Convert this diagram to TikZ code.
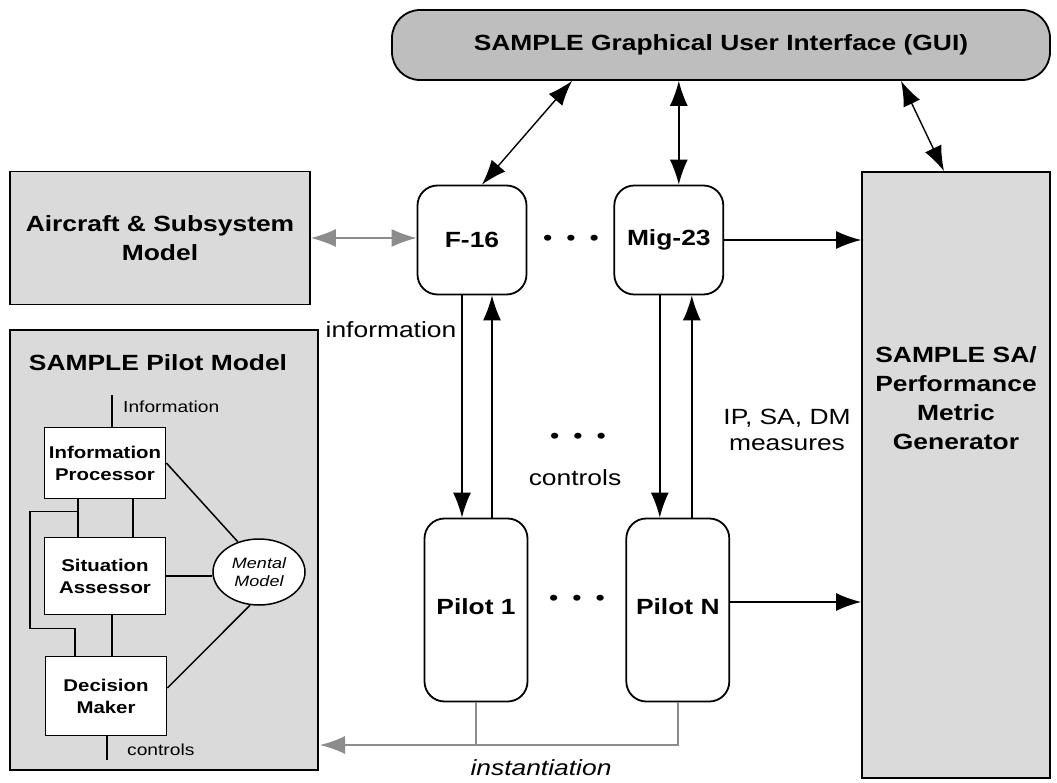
\documentclass[tikz,border=0pt]{standalone}
\usepackage{fontspec}
\setmainfont{Liberation Sans}[FakeStretch=1.2]
\usetikzlibrary{shapes.geometric, arrows.meta, positioning}
\definecolor{guigray}{RGB}{190,190,190}
\definecolor{boxgray}{RGB}{218,218,218}
\definecolor{instgray}{RGB}{140,140,140}
\tikzstyle{graybox} = [rectangle, draw=black, line width=1.8pt, fill=boxgray, align=center, font=\fontsize{22}{29}\selectfont\bfseries]
\tikzstyle{guibox} = [rectangle, rounded corners=28pt, draw=black, line width=1.8pt, fill=guigray, minimum width=658pt, minimum height=70pt, font=\fontsize{22}{27}\selectfont\bfseries]
\tikzstyle{plane} = [rectangle, rounded corners=20pt, draw=black, line width=1.8pt, fill=white, minimum width=109pt, minimum height=109pt, font=\fontsize{22}{27}\selectfont\bfseries]
\tikzstyle{pilot} = [plane, minimum width=103pt, minimum height=183pt]
\tikzstyle{subbox} = [rectangle, draw=black, line width=1.8pt, fill=white, minimum width=121pt, align=center, font=\fontsize{17}{22}\selectfont\bfseries]
\tikzstyle{plaintext} = [align=center, font=\fontsize{22}{26}\selectfont]
\tikzstyle{smalltext} = [anchor=west, inner sep=0pt, font=\fontsize{16}{19}\selectfont]
\tikzstyle{arrow} = [line width=1.4pt, -{Latex[length=25pt,width=18pt]}]
\tikzstyle{dblarrow} = [line width=1.4pt, {Latex[length=25pt,width=18pt]}-{Latex[length=25pt,width=18pt]}]
\tikzstyle{grayarrow} = [draw=instgray, line width=1.4pt, -{Latex[length=25pt,width=18pt]}]
\tikzstyle{grayline} = [draw=instgray, line width=1.4pt]
\tikzstyle{thinline} = [line width=1.5pt]
\newcommand{\threedots}{\textbullet\hspace{14pt}\textbullet\hspace{14pt}\textbullet}

\begin{document}
\begin{tikzpicture}[x=1pt, y=-1pt]
\useasboundingbox (0,0) rectangle (1057,783);
\node (gui) [guibox] at (721,45) {SAMPLE Graphical User Interface (GUI)};
\node (aircraft) [graybox, minimum width=300pt, minimum height=133pt] at (160,238) {Aircraft \& Subsystem\\Model};
\node (pilotmodel) [graybox, minimum width=308pt, minimum height=440pt] at (164,550) {};
\node (pmtitle) [plaintext, font=\fontsize{22}{26}\selectfont\bfseries] at (158,363) {SAMPLE Pilot Model};
\node (metric) [graybox, minimum width=188pt, minimum height=606pt] at (956,475) {};
\node (metrictext) [plaintext, font=\fontsize{22}{29}\selectfont\bfseries] at (956,398) {SAMPLE SA/\\Performance\\Metric\\Generator};

\node (f16) [plane] at (472,240) {F-16};
\node (mig) [plane, right=86pt of f16] {Mig-23};
\node (pilot1) [pilot] at (476,610) {\raisebox{7pt}{Pilot 1}};
\node (pilotN) [pilot, right=97pt of pilot1] {\raisebox{7pt}{Pilot N}};

\node (dotsplane) [plaintext] at (571,240) {\threedots};
\node (dotsmid) [plaintext] at (578,438) {\threedots};
\node (dotspilot) [plaintext] at (577,600) {\threedots};
\node (infotext) [plaintext] at (391,330) {information};
\node (ctrltext) [plaintext] at (575,478) {controls};
\node (measures) [plaintext] at (787,430) {IP, SA, DM\\measures};
\node (insttext) [plaintext, font=\fontsize{22}{26}\selectfont\itshape] at (541,768) {instantiation};

% pilot model inside
\node (ip) [subbox, minimum height=71pt] at (105,463) {Information\\Processor};
\node (sa) [subbox, minimum height=77pt] at (105,576) {Situation\\Assessor};
\node (dm) [subbox, minimum height=79pt] at (106,696) {Decision\\Maker};
\node (mental) [ellipse, draw, line width=1.5pt, fill=white, minimum width=92pt, minimum height=66pt, inner sep=0pt, align=center, font=\fontsize{15}{18}\selectfont\itshape] at (259,572) {Mental\\Model};
\node (ipin) [smalltext] at (123,407) {Information};
\node (dmout) [smalltext] at (127,750) {controls};
\coordinate (ipinend) at (112,395);
\coordinate (dmoutend) at (107,760);

\draw [thinline] (ipinend) -- (ipinend |- ip.north);
\draw [thinline] (dmoutend |- dm.south) -- (dmoutend);
\draw [thinline] ([xshift=-27pt]ip.south) -- ([xshift=-27pt]sa.north);
\draw [thinline] ([xshift=28pt]ip.south) -- ([xshift=28pt]sa.north);
\draw [thinline] ([xshift=-27pt,yshift=25pt]sa.north) -- ++(-48,0) |- ([xshift=-31pt,yshift=27pt]dm.north) -- ([xshift=-31pt]dm.north);
\draw [thinline] ([xshift=7pt]sa.south) -- ([xshift=6pt]dm.north);
\draw [thinline] (ip.east) -- (mental.125);
\draw [thinline] (sa.east) -- (sa.east -| mental.west);
\draw [thinline] ([yshift=8pt]dm.east) -- (mental.255);

% main connectors
\draw [dblarrow] ([xshift=10pt]f16.north) -- ([xshift=-149pt]gui.south);
\draw [dblarrow] ([xshift=10pt]mig.north) -- ([xshift=10pt]mig.north |- gui.south);
\draw [dblarrow] ([xshift=-12pt]metric.north) -- ([xshift=180pt]gui.south);
\draw [instgray, line width=1.4pt, {Latex[length=25pt,width=18pt]}-{Latex[length=25pt,width=18pt]}] (aircraft.east) -- (aircraft.east -| f16.west);
\draw [arrow] (mig.east) -- (mig.east -| metric.west);
\draw [arrow] ([yshift=8pt]pilotN.east) -- ([yshift=8pt]pilotN.east -| metric.west);
\draw [arrow] ([xshift=-10pt]f16.south) -- ([xshift=-10pt]f16.south |- pilot1.north);
\draw [arrow] ([xshift=20pt]f16.south |- pilot1.north) -- ([xshift=20pt]f16.south);
\draw [arrow] ([xshift=-9pt]mig.south) -- ([xshift=-9pt]mig.south |- pilotN.north);
\draw [arrow] ([xshift=23pt]mig.south |- pilotN.north) -- ([xshift=23pt]mig.south);
\coordinate (instend) at (320,745);
\draw [grayline] (pilot1.south) -- (pilot1.south |- instend);
\draw [grayarrow] (pilotN.south) |- (instend);
\end{tikzpicture}
\end{document}
